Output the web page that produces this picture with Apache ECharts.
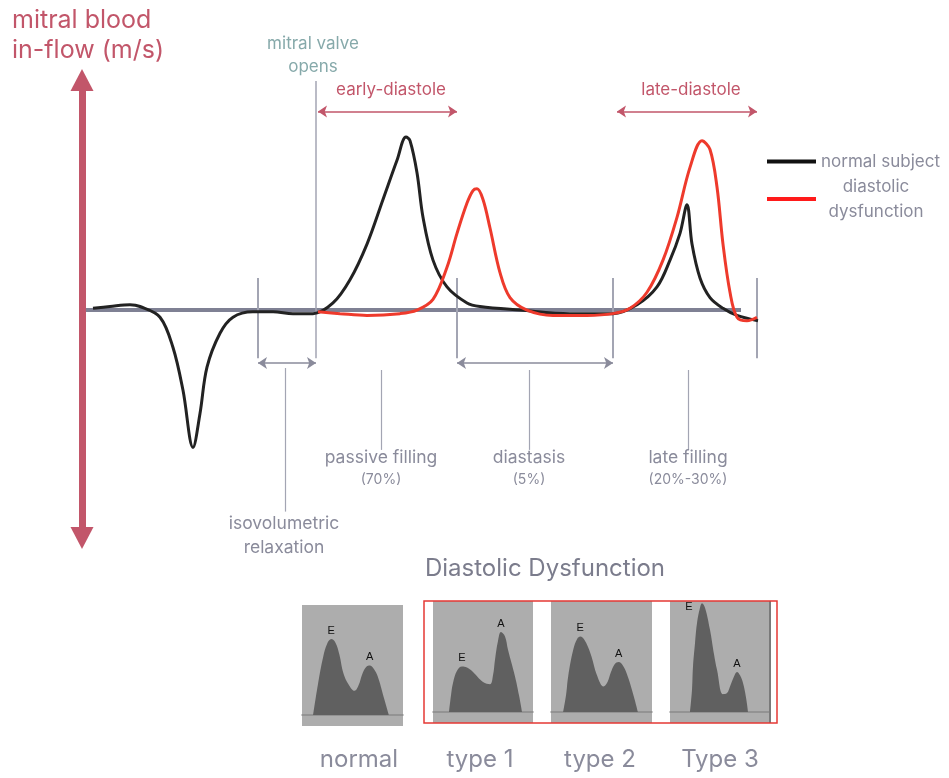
<!DOCTYPE html>
<html><head><meta charset="utf-8">
<script src="https://cdn.jsdelivr.net/npm/echarts@6/dist/echarts.min.js"></script>
<style>html,body{margin:0;padding:0;background:#fff}#c{width:949px;height:778px}</style>
</head><body><div id="c"></div>
<script>
// ---- main Doppler trace (time units, velocity m/s) ----
const timeNormal = [11,28,48,58,78,91,101,111,118,125,138,151,171,191,211,231,251,268,285,301,315,324,328,335,341,351,365,385,398,438,488,531,555,575,588,598,605,610,618,628,641,655,676];
const velNormal  = [0.01,0.02,0.03,0.02,-0.04,-0.21,-0.45,-0.77,-0.58,-0.32,-0.13,-0.04,-0.01,-0.01,-0.02,-0.02,0.04,0.17,0.37,0.62,0.84,0.97,0.95,0.77,0.52,0.28,0.13,0.04,0.02,0.0,-0.02,-0.02,0.03,0.13,0.28,0.43,0.59,0.37,0.18,0.07,0.01,-0.03,-0.06];
const timeDysf = [236,258,285,318,335,351,365,375,385,391,395,401,408,418,428,445,471,505,531,548,565,581,595,608,620,628,635,641,648,655,665,675];
const velDysf  = [-0.01,-0.02,-0.03,-0.02,0.0,0.06,0.24,0.43,0.60,0.67,0.68,0.62,0.46,0.21,0.07,0.0,-0.03,-0.03,-0.02,0.01,0.10,0.28,0.52,0.80,0.95,0.90,0.69,0.37,0.10,-0.04,-0.06,-0.04];
const baselineRange = [4, 659];
const phaseBounds = [176, 375, 531, 675];
const valveOpens = 234;
const pointerX = {iso: 203, passive: 299, diastasis: 447, late: 606};
// ---- small E/A panels ----
const normalX = [11,16,21,25,29,33,37,41,46,52,56,60,64,67,71,75,81,86];
const normalY = [0,0.29,0.53,0.65,0.69,0.66,0.55,0.38,0.28,0.22,0.27,0.38,0.44,0.45,0.42,0.35,0.16,0];
const type1X = [16,18,20,24,29,34,40,50,57,60,62,65,68,72,75,82,86,89];
const type1Y = [0,0.15,0.26,0.37,0.41,0.40,0.36,0.27,0.25,0.33,0.47,0.64,0.72,0.68,0.56,0.32,0.15,0];
const type2X = [12,15,17,22,26,29,33,39,46,52,56,59,63,67,71,76,82,86];
const type2Y = [0,0.16,0.32,0.56,0.66,0.68,0.65,0.53,0.32,0.23,0.27,0.35,0.43,0.45,0.42,0.32,0.14,0];
const type3X = [20,22,23,25,27,30,32,35,40,44,47,53,57,60,64,67,70,73,76,78];
const type3Y = [0,0.2,0.41,0.62,0.8,0.94,0.98,0.94,0.74,0.52,0.38,0.16,0.17,0.23,0.32,0.36,0.33,0.26,0.13,0];
const peaksNormal = [[29,0.69,'E'],[67,0.45,'A']];
const peaksType1 = [[29,0.41,'E'],[68,0.72,'A']];
const peaksType2 = [[29,0.68,'E'],[67,0.45,'A']];
const peaksType3 = [[32,0.98,'E'],[67,0.36,'A']];
const panelNames = ['normal','type 1','type 2','Type 3'];

const FONT = 'Inter';
const PINK = '#c2566a';
const GRAY = '#8a8b9b';
const LGRAY = '#a3a5b3';
const zip = (xs, ys) => xs.map((x, i) => [x, ys[i]]);

function seg(x1, y1, x2, y2, color, width, arrows) {
  const s = arrows ? 'arrow' : 'none';
  return [
    {coord: [x1, y1], symbol: s, lineStyle: {color, width, type: 'solid'}},
    {coord: [x2, y2], symbol: s, lineStyle: {color, width, type: 'solid'}}
  ];
}
const marks = [];
marks.push(seg(baselineRange[0], 0, baselineRange[1], 0, '#7f8194', 4, false));
phaseBounds.forEach(x => marks.push(seg(x, 0.18, x, -0.27, LGRAY, 2, false)));
marks.push(seg(valveOpens, 1.285, valveOpens, -0.27, LGRAY, 1.5, false));
marks.push(seg(176, -0.297, 234, -0.297, GRAY, 1.5, true));
marks.push(seg(375, -0.297, 531, -0.297, GRAY, 1.5, true));
marks.push(seg(236, 1.114, 375, 1.114, PINK, 1.5, true));
marks.push(seg(535, 1.114, 675, 1.114, PINK, 1.5, true));
marks.push(seg(pointerX.iso, -0.325, pointerX.iso, -1.13, LGRAY, 1.2, false));
marks.push(seg(pointerX.passive, -0.336, pointerX.passive, -0.784, LGRAY, 1.2, false));
marks.push(seg(pointerX.diastasis, -0.336, pointerX.diastasis, -0.784, LGRAY, 1.2, false));
marks.push(seg(pointerX.late, -0.336, pointerX.late, -0.784, LGRAY, 1.2, false));

const panels = [
  {left: 302, top: 605, width: 101, height: 121, x: normalX, y: normalY, peaks: peaksNormal},
  {left: 433, top: 601, width: 100, height: 122, x: type1X, y: type1Y, peaks: peaksType1},
  {left: 551, top: 601, width: 101, height: 122, x: type2X, y: type2Y, peaks: peaksType2},
  {left: 670, top: 601, width: 100, height: 122, x: type3X, y: type3Y, peaks: peaksType3}
];

const grids = [{left: 82, top: 80, right: 187, bottom: 240}];
const xAxes = [{type: 'value', min: 0, max: 680, gridIndex: 0,
  axisLine: {show: false},
  axisTick: {show: false}, axisLabel: {show: false}, splitLine: {show: false}}];
const yAxes = [{type: 'value', min: -1.278, max: 1.29, gridIndex: 0, z: 10,
  axisLine: {show: true, onZero: false, symbol: ['triangle', 'triangle'], symbolSize: [23, 22],
    lineStyle: {color: PINK, width: 7}},
  axisTick: {show: false}, axisLabel: {show: false}, splitLine: {show: false}}];
const series = [
  {name: 'normal subject', type: 'line', xAxisIndex: 0, yAxisIndex: 0, smooth: 0.35, showSymbol: false, clip: false,
   data: zip(timeNormal, velNormal), lineStyle: {color: '#222', width: 3}, itemStyle: {color: '#111'}, z: 4,
   markLine: {silent: true, symbolSize: 9, label: {show: false}, animation: false, z: 1, data: marks}},
  {name: 'diastolic dysfunction', type: 'line', xAxisIndex: 0, yAxisIndex: 0, smooth: 0.35, showSymbol: false, clip: false,
   data: zip(timeDysf, velDysf), lineStyle: {color: '#ee3a2c', width: 3}, itemStyle: {color: '#ff1a1a'}, z: 5}
];

panels.forEach((p, i) => {
  const gi = i + 1;
  grids.push({left: p.left, top: p.top, width: p.width, height: p.height, show: true,
    backgroundColor: '#adadad', borderWidth: 0});
  xAxes.push({type: 'value', gridIndex: gi, min: 0, max: 100,
    axisLine: {onZero: true, lineStyle: {color: '#8a8a8a', width: 1.5}},
    axisTick: {show: false}, axisLabel: {show: false}, splitLine: {show: false}});
  yAxes.push({type: 'value', gridIndex: gi, min: -0.1, max: 1.0, show: false,
    splitLine: {show: false}});
  series.push({name: panelNames[i], type: 'line', xAxisIndex: gi, yAxisIndex: gi, smooth: 0.4,
    showSymbol: false, data: zip(p.x, p.y), lineStyle: {width: 0},
    areaStyle: {color: '#606060', opacity: 1}, z: 2,
    markPoint: {symbol: 'circle', symbolSize: 0, animation: false,
      data: p.peaks.map(pk => ({coord: [pk[0], pk[1]], name: pk[2],
        label: (i === 3 && pk[2] === 'E') ? {position: 'inside', offset: [-13, 4]} : {position: 'top', distance: 3}})),
      label: {show: true, formatter: '{b}', color: '#111', fontSize: 11, fontFamily: 'Liberation Sans'}}});
});

function txt(x, y, text, size, color, align) {
  return {type: 'text', x, y, z: 20, style: {text, fontSize: size, fontFamily: FONT, fill: color,
    align: align || 'center', verticalAlign: 'middle'}};
}
const graphics = [
  txt(12, 20, 'mitral blood', 25, PINK, 'left'),
  txt(12, 50, 'in-flow (m/s)', 25, PINK, 'left'),
  txt(313, 44, 'mitral valve', 17, '#86a9aa'),
  txt(313, 67, 'opens', 17, '#86a9aa'),
  txt(391, 90, 'early-diastole', 17, PINK),
  txt(691, 90, 'late-diastole', 17, PINK),
  txt(381, 458, 'passive filling', 17.5, GRAY),
  txt(381, 480, '(70%)', 14, GRAY),
  txt(529, 458, 'diastasis', 17.5, GRAY),
  txt(529, 480, '(5%)', 14, GRAY),
  txt(688, 458, 'late filling', 17.5, GRAY),
  txt(688, 480, '(20%-30%)', 14, GRAY),
  txt(284, 524, 'isovolumetric', 17.5, GRAY),
  txt(284, 548, 'relaxation', 17.5, GRAY),
  txt(545, 569, 'Diastolic Dysfunction', 24, '#7b7c8c'),
  txt(359, 760, panelNames[0], 24, GRAY),
  txt(480, 760, panelNames[1], 24, GRAY),
  txt(600, 760, panelNames[2], 24, GRAY),
  txt(720, 760, panelNames[3], 24, GRAY),
  {type: 'line', z: 20, shape: {x1: 770, y1: 601, x2: 770, y2: 723}, style: {stroke: '#7a7a7a', lineWidth: 2}},
  {type: 'rect', z: 21, shape: {x: 424, y: 601, width: 353, height: 122}, style: {stroke: '#e53935', fill: null, lineWidth: 1.5}}
];

const chart = echarts.init(document.getElementById('c'));
chart.setOption({
  animation: false,
  backgroundColor: '#fff',
  grid: grids, xAxis: xAxes, yAxis: yAxes, series,
  legend: {data: ['normal subject', 'diastolic dysfunction'], orient: 'vertical', left: 762, top: 148,
    itemWidth: 49, itemHeight: 4, icon: 'rect', itemGap: 8, selectedMode: false,
    formatter: n => n === 'diastolic dysfunction' ? '{c|diastolic}\n{c|dysfunction}' : '{l|' + n + '}',
    textStyle: {color: GRAY, fontSize: 17, fontFamily: FONT,
      rich: {c: {width: 110, align: 'center', fontSize: 17, fontFamily: FONT, color: GRAY, lineHeight: 25},
             l: {fontSize: 17, fontFamily: FONT, color: GRAY, lineHeight: 20}}}},
  graphic: graphics
});
</script></body></html>
